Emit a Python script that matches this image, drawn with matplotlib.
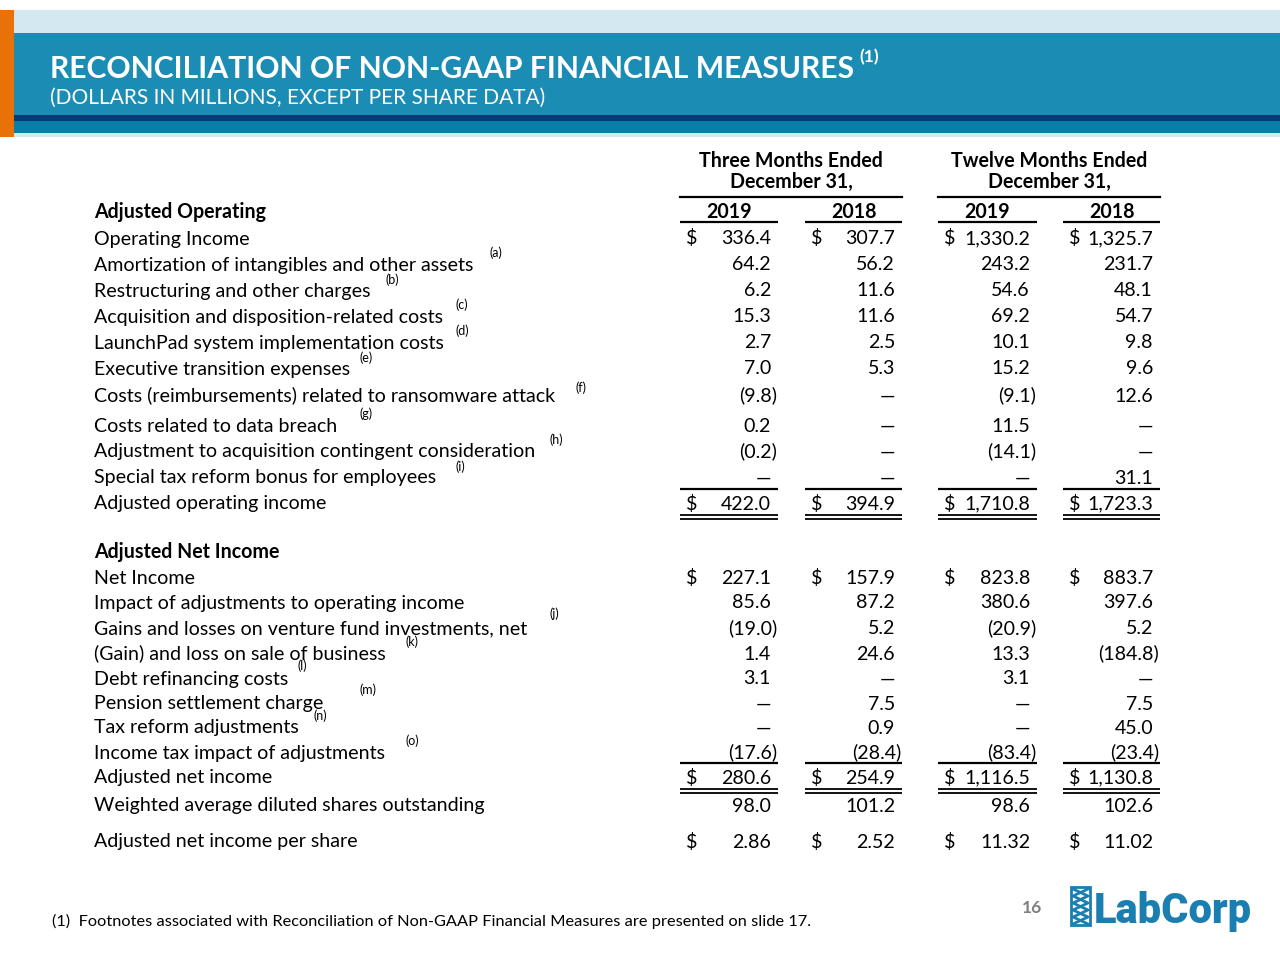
import numpy as np
import matplotlib.pyplot as plt
from matplotlib.patches import Rectangle

plt.rcParams["font.family"] = ["Lato", "DejaVu Sans"]

# ---- data ----
op_labels = [
    "Operating Income",
    "Amortization of intangibles and other assets",
    "Restructuring and other charges",
    "Acquisition and disposition-related costs",
    "LaunchPad system implementation costs",
    "Executive transition expenses",
    "Costs (reimbursements) related to ransomware attack",
    "Costs related to data breach",
    "Adjustment to acquisition contingent consideration",
    "Special tax reform bonus for employees",
]
op_notes = ["", "(a)", "(b)", "(c)", "(d)", "(e)", "(f)", "(g)", "(h)", "(i)"]
op_q19 = [336.4, 64.2, 6.2, 15.3, 2.7, 7.0, -9.8, 0.2, -0.2, None]
op_q18 = [307.7, 56.2, 11.6, 11.6, 2.5, 5.3, None, None, None, None]
op_y19 = [1330.2, 243.2, 54.6, 69.2, 10.1, 15.2, -9.1, 11.5, -14.1, None]
op_y18 = [1325.7, 231.7, 48.1, 54.7, 9.8, 9.6, 12.6, None, None, 31.1]
op_total = [422.0, 394.9, 1710.8, 1723.3]

ni_labels = [
    "Net Income",
    "Impact of adjustments to operating income",
    "Gains and losses on venture fund investments, net",
    "(Gain) and loss on sale of business",
    "Debt refinancing costs",
    "Pension settlement charge",
    "Tax reform adjustments",
    "Income tax impact of adjustments",
]
ni_notes = ["", "", "(j)", "(k)", "(l)", "(m)", "(n)", "(o)"]
ni_q19 = [227.1, 85.6, -19.0, 1.4, 3.1, None, None, -17.6]
ni_q18 = [157.9, 87.2, 5.2, 24.6, None, 7.5, 0.9, -28.4]
ni_y19 = [823.8, 380.6, -20.9, 13.3, 3.1, None, None, -83.4]
ni_y18 = [883.7, 397.6, 5.2, -184.8, None, 7.5, 45.0, -23.4]
ni_total = [280.6, 254.9, 1116.5, 1130.8]

shares = [98.0, 101.2, 98.6, 102.6]
eps = [2.86, 2.52, 11.32, 11.02]

years = ["2019", "2018", "2019", "2018"]
periods = ["Three Months Ended\nDecember 31,", "Twelve Months Ended\nDecember 31,"]

# ---- layout (pixels) ----
col_left = [680, 805, 938, 1063]
col_right = [778, 902, 1037, 1160]
op_y = [238, 264, 290, 316, 342, 368, 395, 425, 451, 477]
op_note_x = [0, 489, 385, 455, 455, 360, 575, 360, 550, 455]
op_note_y = [0, 253, 280, 305, 331, 358, 388, 414, 440, 467]
ni_y = [577, 602, 628, 653, 678, 703, 727, 752]
ni_note_x = [0, 0, 550, 405, 297, 360, 314, 405]
ni_note_y = [0, 0, 614, 642, 666, 690, 716, 741]

FS = 14.1  # body font size (pt)
NFS = 9    # footnote marker size
LX = 94

fig = plt.figure(figsize=(12.8, 9.6), dpi=100)
ax = fig.add_axes([0, 0, 1, 1])
ax.set_xlim(0, 1280)
ax.set_ylim(960, 0)
ax.axis("off")

# ---- banner ----
ax.add_patch(Rectangle((0, 10), 1280, 127, color="#d3e8f0", lw=0))
ax.add_patch(Rectangle((0, 33), 1280, 82, color="#1b8db4", lw=0))
ax.add_patch(Rectangle((0, 115), 1280, 6, color="#003b78", lw=0))
ax.add_patch(Rectangle((0, 121), 1280, 12, color="#0a7ea6", lw=0))
ax.add_patch(Rectangle((0, 10), 14, 127, color="#e8710a", lw=0))
ax.text(50, 78, "RECONCILIATION OF NON-GAAP FINANCIAL MEASURES", color="white",
        fontsize=21.7, fontweight="bold", va="baseline")
ax.text(859, 62, "(1)", color="white", fontsize=12.5, fontweight="bold", va="baseline")
ax.text(50, 104, "(DOLLARS IN MILLIONS, EXCEPT PER SHARE DATA)", color="white",
        fontsize=15, va="baseline")


def fmt(v, nd=1):
    if v is None:
        return "\u2014", False
    s = f"{abs(v):,.{nd}f}"
    if v < 0:
        return f"({s})", True
    return s, False


def put_row(y, vals, dollar=False, nd=1):
    for i, v in enumerate(vals):
        s, neg = fmt(v, nd)
        xr = col_right[i] - (1 if neg else 7)
        ax.text(xr, y + 6.5, s, ha="right", va="baseline", fontsize=FS)
        if dollar:
            ax.text(col_left[i] + 6, y + 6.5, "$", ha="left", va="baseline", fontsize=FS)


def hline(y, lw=1.6):
    for l, r in zip(col_left, col_right):
        ax.plot([l, r], [y, y], color="black", lw=lw, solid_capstyle="butt")


# ---- column headers ----
for k, p in enumerate(periods):
    cx = (col_left[2 * k] + col_right[2 * k + 1]) / 2
    ax.text(cx, 167, p.split("\n")[0], ha="center", va="baseline", fontsize=FS, fontweight="bold")
    ax.text(cx, 188, p.split("\n")[1], ha="center", va="baseline", fontsize=FS, fontweight="bold")
    ax.plot([col_left[2 * k], col_right[2 * k + 1]], [197, 197], color="black", lw=1.6)
for i, yr in enumerate(years):
    ax.text((col_left[i] + col_right[i]) / 2, 218, yr, ha="center", va="baseline",
            fontsize=FS, fontweight="bold")
hline(222)

# ---- adjusted operating ----
ax.text(LX, 218, "Adjusted Operating", va="baseline", fontsize=FS, fontweight="bold")
for r, lab in enumerate(op_labels):
    ax.text(LX, op_y[r] + 6.5, lab, va="baseline", fontsize=FS)
    if op_notes[r]:
        ax.text(op_note_x[r], op_note_y[r], op_notes[r], va="center", fontsize=NFS)
    put_row(op_y[r], [op_q19[r], op_q18[r], op_y19[r], op_y18[r]], dollar=(r == 0))
hline(489)
ax.text(LX, 509.5, "Adjusted operating income", va="baseline", fontsize=FS)
put_row(503, op_total, dollar=True)
hline(515, 1.3)
hline(519, 1.3)

# ---- adjusted net income ----
ax.text(LX, 558.5, "Adjusted Net Income", va="baseline", fontsize=FS, fontweight="bold")
for r, lab in enumerate(ni_labels):
    ax.text(LX, ni_y[r] + 6.5, lab, va="baseline", fontsize=FS)
    if ni_notes[r]:
        ax.text(ni_note_x[r], ni_note_y[r], ni_notes[r], va="center", fontsize=NFS)
    put_row(ni_y[r], [ni_q19[r], ni_q18[r], ni_y19[r], ni_y18[r]], dollar=(r == 0))
hline(763)
ax.text(LX, 783.5, "Adjusted net income", va="baseline", fontsize=FS)
put_row(777, ni_total, dollar=True)
hline(789, 1.3)
hline(793, 1.3)
ax.text(LX, 811.5, "Weighted average diluted shares outstanding", va="baseline", fontsize=FS)
put_row(805, shares)
ax.text(LX, 847.5, "Adjusted net income per share", va="baseline", fontsize=FS)
put_row(841, eps, dollar=True, nd=2)

# ---- footer ----
ax.text(52, 926, "(1)  Footnotes associated with Reconciliation of Non-GAAP Financial Measures are presented on slide 17.",
        va="baseline", fontsize=11.8)
ax.text(1042, 913, "16", ha="right", va="baseline", fontsize=12.5, color="#7f7f7f", fontweight="bold")

blue = "#1a7fb0"
ax.add_patch(Rectangle((1071, 887), 19, 38, fill=False, ec=blue, lw=2))
zx = [1073, 1088, 1073, 1088, 1073, 1088]
zy = [889, 896, 903, 910, 917, 924]
ax.plot(zx, zy, color=blue, lw=2)
ax.plot([1088, 1073, 1088, 1073, 1088, 1073], zy, color=blue, lw=2)
ax.text(1094, 923, "LabCorp", color=blue, fontsize=30, fontweight="black",
        family=["Roboto", "DejaVu Sans"], va="baseline")

fig.savefig("out.png", dpi=100)
